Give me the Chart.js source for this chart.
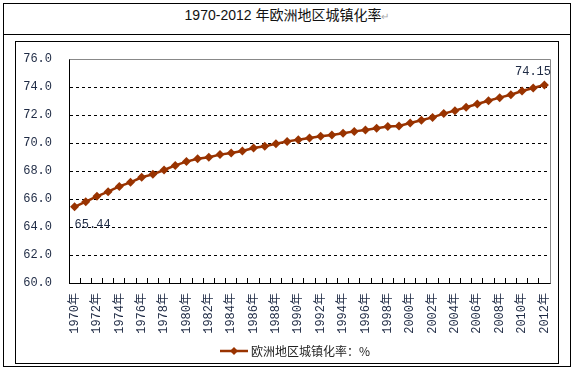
<!DOCTYPE html>
<html>
<head>
<meta charset="utf-8">
<script src="https://cdn.jsdelivr.net/npm/chart.js@4/dist/chart.umd.min.js"></script>
<style>
  body { margin: 0; background: #fff; }
  .box { position: absolute; box-sizing: border-box; border: 1px solid #000; }
  #outer { left: 3px; top: 3px; width: 568px; height: 364px; }
  #sep { position: absolute; left: 3px; top: 34px; width: 568px; height: 1px; background: #000; }
  #title { position: absolute; left: 3px; top: 4px; width: 568px; height: 30px; line-height: 30px;
           text-align: center; font: 14px "Liberation Sans", "Noto Sans CJK SC", sans-serif; color: #111; }
  #title span { color: #aaa; font-size: 10px; }
  #inner { left: 15px; top: 41px; width: 544px; height: 323px; }
  #mychart { position: absolute; left: 16px; top: 42px; }
</style>
</head>
<body>
<div id="outer" class="box"></div>
<div id="sep"></div>
<div id="title">1970-2012 年欧洲地区城镇化率<span>↵</span></div>
<div id="inner" class="box"></div>
<canvas id="mychart" width="542" height="321"></canvas>
<script>
// years on the x axis
const labels = [
  "1970年", "1971年", "1972年", "1973年", "1974年", "1975年", "1976年", "1977年", "1978年", "1979年",
  "1980年", "1981年", "1982年", "1983年", "1984年", "1985年", "1986年", "1987年", "1988年", "1989年",
  "1990年", "1991年", "1992年", "1993年", "1994年", "1995年", "1996年", "1997年", "1998年", "1999年",
  "2000年", "2001年", "2002年", "2003年", "2004年", "2005年", "2006年", "2007年", "2008年", "2009年",
  "2010年", "2011年", "2012年"
];

// urbanisation rate, %
const rates = [
  65.44, 65.81, 66.19, 66.52, 66.90, 67.19, 67.55, 67.76, 68.07, 68.40,
  68.67, 68.88, 68.98, 69.17, 69.29, 69.43, 69.64, 69.76, 69.95, 70.10,
  70.24, 70.36, 70.48, 70.57, 70.69, 70.83, 70.93, 71.05, 71.17, 71.21,
  71.43, 71.62, 71.83, 72.10, 72.31, 72.55, 72.79, 73.02, 73.24, 73.45,
  73.71, 73.93, 74.15
];

const yTicks = [60, 62, 64, 66, 68, 70, 72, 74, 76];

const seriesName = "欧洲地区城镇化率：%";
const lineColor = "#993300";
const textColor = "#1e2a44";
const monoFont = "'Liberation Mono', 'Noto Sans CJK SC', monospace";

// gray frame on the top and right of the plot
const frame = {
  id: "frame",
  afterDatasetsDraw(chart) {
    const ctx = chart.ctx;
    const a = chart.chartArea;
    ctx.save();
    ctx.strokeStyle = "#888";
    ctx.lineWidth = 1;
    ctx.beginPath();
    ctx.moveTo(Math.round(a.left) + 0.5, Math.round(a.top) + 0.5);
    ctx.lineTo(Math.round(a.right) + 0.5, Math.round(a.top) + 0.5);
    ctx.lineTo(Math.round(a.right) + 0.5, Math.round(a.bottom) + 0.5);
    ctx.stroke();
    ctx.restore();
  }
};

// first and last value labels
const endLabels = {
  id: "endLabels",
  afterDatasetsDraw(chart) {
    const ctx = chart.ctx;
    const pts = chart.getDatasetMeta(0).data;
    const first = pts[0], last = pts[pts.length - 1];
    ctx.save();
    ctx.font = "12px " + monoFont;
    ctx.fillStyle = textColor;
    ctx.textBaseline = "middle";
    ctx.textAlign = "left";
    ctx.fillText(rates[0].toFixed(2), first.x, first.y + 18);
    ctx.textAlign = "right";
    ctx.fillText(rates[rates.length - 1].toFixed(2), chart.chartArea.right + 1, last.y - 13);
    ctx.restore();
  }
};

// legend: line with diamond and the series name
const legendLine = {
  id: "legendLine",
  afterDraw(chart) {
    const ctx = chart.ctx;
    ctx.save();
    ctx.font = "12px 'Noto Sans CJK SC', sans-serif";
    const tw = ctx.measureText(seriesName).width;
    const total = 28 + 3 + tw;
    const x0 = (chart.width - total) / 2 + 8;
    const y = chart.height - 12;
    ctx.strokeStyle = lineColor;
    ctx.lineWidth = 2.5;
    ctx.beginPath();
    ctx.moveTo(x0, y);
    ctx.lineTo(x0 + 28, y);
    ctx.stroke();
    ctx.fillStyle = lineColor;
    ctx.beginPath();
    ctx.moveTo(x0 + 14, y - 4);
    ctx.lineTo(x0 + 18, y);
    ctx.lineTo(x0 + 14, y + 4);
    ctx.lineTo(x0 + 10, y);
    ctx.closePath();
    ctx.fill();
    ctx.fillStyle = "#222";
    ctx.textBaseline = "middle";
    ctx.textAlign = "left";
    ctx.fillText(seriesName, x0 + 31, y);
    ctx.restore();
  }
};

const data = {
  labels: labels,
  datasets: [
    {
      label: seriesName,
      data: rates,
      borderColor: lineColor,
      backgroundColor: lineColor,
      borderWidth: 2.5,
      pointStyle: "rectRot",
      pointRadius: 4.5,
      pointBorderWidth: 0,
      pointBackgroundColor: lineColor,
      tension: 0,
      clip: false
    }
  ]
};

const config = {
  type: "line",
  data: data,
  options: {
    responsive: false,
    animation: false,
    layout: { autoPadding: false, padding: { top: 17, right: 8, bottom: 30, left: 0 } },
    plugins: {
      legend: { display: false },
      tooltip: { enabled: false }
    },
    scales: {
      x: {
        offset: true,
        grid: {
          offset: true,
          drawOnChartArea: false,
          drawTicks: true,
          tickLength: -5,
          tickColor: "#000",
          tickWidth: 1
        },
        border: { color: "#000", width: 1 },
        ticks: {
          autoSkip: false,
          minRotation: 90,
          maxRotation: 90,
          padding: 15,
          color: textColor,
          font: { family: monoFont, size: 12 },
          callback: function (v, i) { return i % 2 === 0 ? labels[i] : ""; }
        },
        afterFit: function (s) { s.height = 50; s.paddingLeft = 0; s.paddingRight = 0; }
      },
      y: {
        min: yTicks[0],
        max: yTicks[yTicks.length - 1],
        afterBuildTicks: function (s) { s.ticks = yTicks.map(v => ({ value: v })); },
        grid: {
          drawTicks: false,
          color: function (c) {
            return (c.tick.value === yTicks[0] || c.tick.value === yTicks[yTicks.length - 1]) ? "rgba(0,0,0,0)" : "#000";
          },
          lineWidth: 1
        },
        border: { color: "#000", width: 1, dash: [3, 3] },
        ticks: {
          padding: 17,
          color: textColor,
          font: { family: monoFont, size: 12 },
          callback: function (v) { return Number(v).toFixed(1); }
        },
        afterFit: function (s) { s.width = 53; s.paddingTop = 0; s.paddingBottom = 0; }
      }
    }
  },
  plugins: [frame, endLabels, legendLine]
};

const mychart = new Chart(document.getElementById("mychart").getContext("2d"), config);
</script>
</body>
</html>
